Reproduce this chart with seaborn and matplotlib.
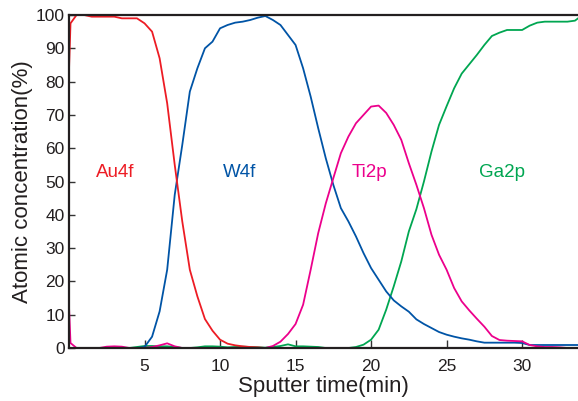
import matplotlib
matplotlib.use("Agg")
import matplotlib.pyplot as plt
import seaborn as sns
import pandas as pd

# sputter times (min)
time_min = [0, 0.1, 0.5, 1.0, 1.5, 2.0, 2.5, 3.0, 3.5, 4.0, 4.5, 5.0, 5.5, 6.0, 6.5, 7.0,
            7.5, 8.0, 8.5, 9.0, 9.5, 10.0, 10.5, 11.0, 11.5, 12.0, 12.5, 13.0, 13.5, 14.0,
            14.5, 15.0, 15.5, 16.0, 16.5, 17.0, 17.5, 18.0, 18.5, 19.0, 19.5, 20.0, 20.5,
            21.0, 21.5, 22.0, 22.5, 23.0, 23.5, 24.0, 24.5, 25.0, 25.5, 26.0, 26.5, 27.0,
            27.5, 28.0, 28.5, 29.0, 29.5, 30.0, 30.5, 31.0, 31.5, 32.0, 32.5, 33.0, 33.5, 34.0]

au4f = [83.5, 97.5, 100, 100, 99.5, 99.5, 99.5, 99.5, 99, 99, 99, 97.5, 95, 87, 73.5, 55,
        38, 23.5, 15.5, 8.7, 5.2, 2.5, 1.3, 0.8, 0.5, 0.3, 0.2, 0, 0, 0,
        0, 0, 0, 0, 0, 0, 0, 0, 0, 0, 0, 0, 0,
        0, 0, 0, 0, 0, 0, 0, 0, 0, 0, 0, 0, 0,
        0, 0, 0, 0, 0, 0, 0, 0, 0, 0, 0, 0, 0, 0]

w4f = [0, 0, 0, 0, 0, 0, 0, 0, 0, 0, 0, 0.3, 3.4, 11, 23.5, 46,
       61, 77, 84, 90, 92, 96, 97, 97.7, 98, 98.5, 99.2, 99.7, 98.5, 97,
       94, 91, 84, 75.5, 66, 57, 49, 42, 38, 33.5, 28.5, 24, 20.5,
       17, 14.3, 12.5, 10.9, 8.6, 7.2, 6, 4.8, 4, 3.4, 2.9, 2.5, 2,
       1.6, 1.6, 1.6, 1.6, 1.6, 1.5, 0.9, 0.9, 0.9, 0.9, 0.9, 0.9, 0.9, 0.9]

ti2p = [12.5, 1.5, 0, 0, 0, 0, 0.4, 0.5, 0.4, 0, 0, 0, 0.3, 0.8, 1.4, 0.5,
        0, 0, 0, 0, 0, 0, 0, 0, 0, 0, 0, 0, 0.6, 1.9,
        4.2, 7.2, 13, 23.5, 34.5, 43.4, 51, 58.5, 63.5, 67.5, 70, 72.5, 72.8,
        70.6, 67, 62.5, 55.5, 49, 42, 34, 28, 23.5, 18, 14, 11.3, 8.8,
        6.4, 3.6, 2.4, 2.2, 2.1, 2.0, 0.9, 0.5, 0.3, 0.3, 0.2, 0, 0, 0]

ga2p = [0, 0, 0, 0, 0, 0, 0, 0, 0, 0, 0.3, 0.6, 0.6, 0.5, 0.5, 0.3,
        0, 0, 0.2, 0.5, 0.5, 0.4, 0.2, 0.3, 0.4, 0.3, 0.2, 0.1, 0.3, 0.6,
        1.1, 0.5, 0.5, 0.4, 0.3, 0, 0, 0, 0, 0.3, 1, 2.5, 5.5,
        11.5, 18.5, 26, 35, 41.7, 50, 59, 67, 72.6, 78, 82.4, 85.2, 88,
        91, 93.7, 94.7, 95.5, 95.5, 95.5, 96.8, 97.7, 98, 98, 98, 98, 98.3, 100]

series_names = ["Au4f", "W4f", "Ti2p", "Ga2p"]
series_values = [au4f, w4f, ti2p, ga2p]
series_colors = ["#ED1C24", "#0054A6", "#EC008C", "#00A651"]
label_pos = [(3.07, 52.7), (11.3, 52.7), (19.9, 52.7), (28.65, 52.7)]

x_ticks = [5, 10, 15, 20, 25, 30]
y_ticks = [0, 10, 20, 30, 40, 50, 60, 70, 80, 90, 100]

rows = []
for name, vals in zip(series_names, series_values):
    for t, v in zip(time_min, vals):
        rows.append({"time": t, "conc": v, "element": name})
df = pd.DataFrame(rows)

sns.set_style("ticks")
plt.rcParams["font.family"] = ["Liberation Sans", "DejaVu Sans"]

fig = plt.figure(figsize=(5.78, 4.01), dpi=100)
ax = fig.add_axes([69 / 578, (401 - 348) / 401, 1 - 69 / 578, (348 - 15) / 401])

palette = dict(zip(series_names, series_colors))
sns.lineplot(data=df, x="time", y="conc", hue="element", palette=palette,
             hue_order=["Ga2p", "W4f", "Ti2p", "Au4f"],
             linewidth=1.3, legend=False, ax=ax, sort=False)

for name, col, (tx, ty) in zip(series_names, series_colors, label_pos):
    ax.text(tx, ty, name, color=col, fontsize=13.5, ha="center", va="center")

ax.set_xlim(0, 33.7)
ax.set_ylim(0, 100)
ax.set_xticks(x_ticks)
ax.set_yticks(y_ticks)
ax.tick_params(axis="both", direction="in", colors="#333333", labelcolor="#231F20",
               labelsize=12.5, width=1.0)
ax.tick_params(axis="x", length=6, pad=8)
ax.tick_params(axis="y", length=4, pad=3)

for s in ["left", "bottom", "top"]:
    ax.spines[s].set_visible(True)
    ax.spines[s].set_color("#231F20")
    ax.spines[s].set_linewidth(1.6)
ax.spines["right"].set_visible(False)

ax.set_xlabel("Sputter time(min)", fontsize=16, color="#231F20")
ax.set_ylabel("Atomic concentration(%)", fontsize=16, color="#231F20")
ax.xaxis.set_label_coords(0.5, -0.085)
ax.yaxis.set_label_coords(-0.071, 0.5)

fig.savefig("out.png", dpi=100)
